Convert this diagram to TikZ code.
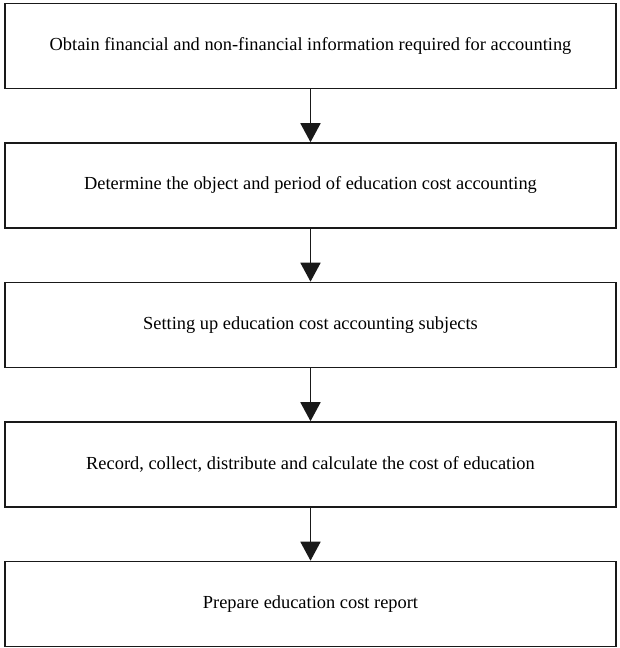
\documentclass[tikz,border=0pt]{standalone}
\usepackage{fontspec}
\setmainfont{Liberation Serif}
\usetikzlibrary{arrows.meta}
\newcommand{\BoxW}{611pt}
\newcommand{\BoxH}{85pt}
\tikzset{Stage/.style={
    inner sep=0pt,
    minimum width=\BoxW,
    minimum height=\BoxH,
    draw=black!90,
    line width=1.6pt,
    align=center,
    font=\fontsize{18.4}{22}\selectfont,
    }
}

\begin{document}
\begin{tikzpicture}[x=1pt,y=1pt,
    flow/.style={line width=1.8pt, draw=black!90,
      -{Triangle[width=20pt,length=19pt]}},
]
\useasboundingbox (0,0) rectangle (619,-648);
\node [Stage] (obtain) at (310.5,-46) {Obtain financial and non-financial information required for accounting};
\node [Stage] (object) at (310.5,-185.5) {Determine the object and period of education cost accounting};
\node [Stage] (subjects) at (310.5,-325) {Setting up education cost accounting subjects};
\node [Stage] (record) at (310.5,-464.5) {Record, collect, distribute and calculate the cost of education};
\node [Stage] (report) at (310.5,-604) {Prepare education cost report};
% arrows between stages
\draw [flow] (obtain) -- (object);
\draw [flow] (object) -- (subjects);
\draw [flow] (subjects) -- (record);
\draw [flow] (record) -- (report);
\end{tikzpicture}
\end{document}
